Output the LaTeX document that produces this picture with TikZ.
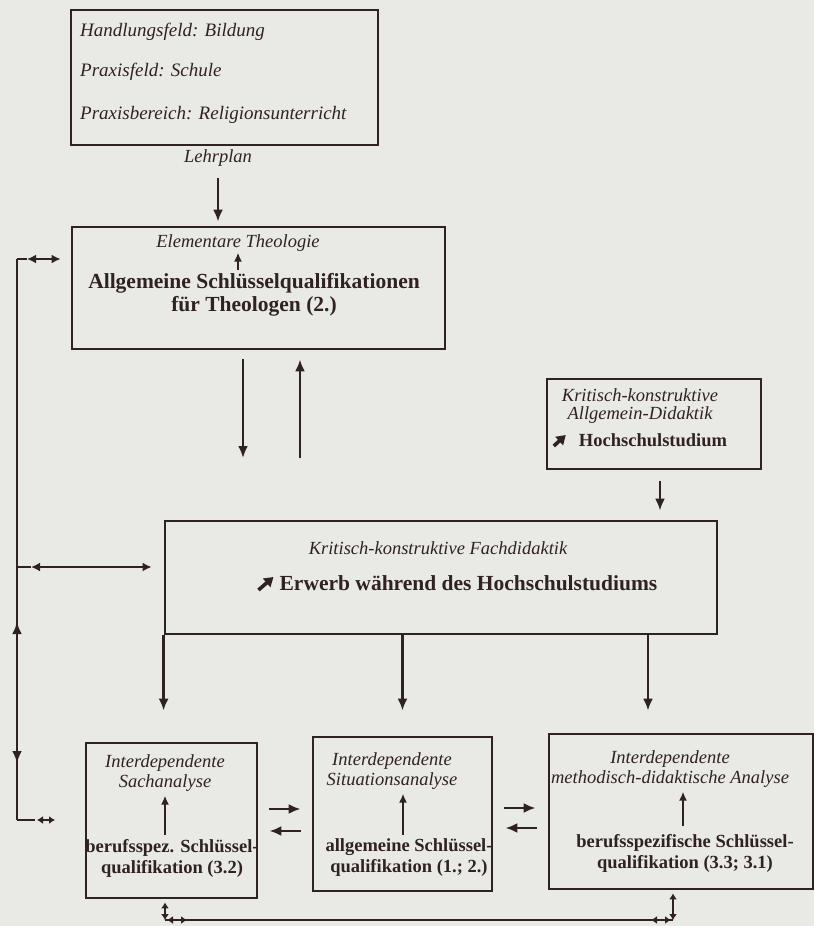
\documentclass[tikz,border=0pt]{standalone}
\usepackage{fontspec}
\setmainfont{Liberation Serif}
\usetikzlibrary{arrows.meta}
\definecolor{ink}{RGB}{48,34,34}
\definecolor{paper}{RGB}{233,233,230}

\begin{document}
\begin{tikzpicture}[x=1pt, y=-1pt,
	every node/.style={text=ink, inner sep=0pt},
	box/.style={draw=ink, line width=2.8pt},
	lbl/.style={font=\fontsize{18.5}{20}\selectfont\itshape, align=center},
	key/.style={font=\fontsize{18.5}{21}\selectfont\bfseries, align=center},
	big/.style={font=\fontsize{21.5}{23}\selectfont\bfseries, align=center},
	arr/.style={draw=ink, line width=2.4pt, -{Latex[length=12pt,width=10pt]}},
	up/.style={draw=ink, line width=2.2pt, -{Latex[length=9pt,width=8pt]}},
	dbl/.style={draw=ink, line width=2.4pt, {Latex[length=9pt,width=9pt]}-{Latex[length=9pt,width=9pt]}},
	tick/.style={draw=ink, line width=2.2pt, {Latex[length=6pt,width=8pt]}-{Latex[length=6pt,width=8pt]}},
	heavy/.style={draw=ink, line width=3.6pt, -{Triangle[length=9pt,width=11pt]}},
	bus/.style={draw=ink, line width=2.4pt}
]

% Paper
\fill[paper] (0,0) rectangle (814,926);
\useasboundingbox (0,0) rectangle (814,926);

%% BOXES
% Praxis
\node[box, minimum width=307pt, minimum height=135pt] (praxis) at (224.5,77.5) {};
\node[lbl, anchor=west, font=\fontsize{19}{21}\selectfont\itshape] (feld) at (80,32) {Handlungsfeld: Bildung};
\node[lbl, anchor=west, font=\fontsize{19}{21}\selectfont\itshape] (schule) at (80,72) {Praxisfeld: Schule};
\node[lbl, anchor=west, font=\fontsize{19}{21}\selectfont\itshape] (bereich) at (80,115) {Praxisbereich: Religionsunterricht};
\node[lbl] (lehrplan) at (218,158) {Lehrplan};

% Elementare Theologie
\node[box, minimum width=373pt, minimum height=122pt] (theo) at (258.5,288) {};
\node[lbl] (elem) at (238,243) {Elementare Theologie};
\node[big] (allg) at (254,295) {Allgemeine Schlüsselqualifikationen\\für Theologen (2.)};

% Allgemein-Didaktik
\node[box, minimum width=214pt, minimum height=90pt] (didak) at (654,424) {};
\node[lbl, font=\fontsize{18.5}{18}\selectfont\itshape] (krit) at (640,406) {Kritisch-konstruktive\\Allgemein-Didaktik};
\node[key] (hoch) at (653,440) {Hochschulstudium};
\draw[heavy] ([xshift=-25pt, yshift=-6pt]hoch.west) -- ++(12,-11);

% Fachdidaktik
\node[box, minimum width=552pt, minimum height=113pt] (fach) at (441,577.5) {};
\node[lbl] (fachtxt) at (438,548) {Kritisch-konstruktive Fachdidaktik};
\node[big] (erwerb) at (468.5,583) {Erwerb während des Hochschulstudiums};
\draw[heavy] ([xshift=-21pt, yshift=-7pt]erwerb.west) -- ++(15,-13);

% Analysen
\node[box, minimum width=171pt, minimum height=155pt] (sach) at (171.5,820.5) {};
\node[lbl] (sachtxt) at (165,773) {Interdependente\\Sachanalyse};
\node[key] (sachkey) at (172,858) {berufsspez. Schlüssel-\\qualifikation (3.2)};

\node[box, minimum width=179pt, minimum height=154pt] (situ) at (402.5,814) {};
\node[lbl] (situtxt) at (392,771) {Interdependente\\Situationsanalyse};
\node[key] (situkey) at (409,858) {allgemeine Schlüssel-\\qualifikation (1.; 2.)};

\node[box, minimum width=264pt, minimum height=155pt] (meth) at (681,811.5) {};
\node[lbl] (methtxt) at (670,769) {Interdependente\\methodisch-didaktische Analyse};
\node[key] (methkey) at (685,853) {berufsspezifische Schlüssel-\\qualifikation (3.3; 3.1)};

%% ARROWS
% Columns
\coordinate (c1) at (243,0);
\coordinate (c2) at (300,0);
\coordinate (c3) at (660,0);
\coordinate (c7) at (648,0);

\draw[arr, shorten <=11pt, shorten >=4pt] (lehrplan.south) -- (lehrplan.south |- theo.north);
\draw[up, shorten <=3pt, shorten >=1pt] (allg.north -| elem.south) -- (elem.south);
\draw[arr, shorten <=9pt] (c1 |- theo.south) -- (243,458);
\draw[arr, shorten >=9pt] (300,458) -- (c2 |- theo.south);
\draw[arr, shorten <=11pt, shorten >=9pt] (c3 |- didak.south) -- (c3 |- fach.north);

% Fachdidaktik down
\draw[arr, shorten >=31pt] (fach.south west) -- (fach.south west |- sach.north);
\draw[arr, shorten >=25pt] (situ.north |- fach.south) -- (situ.north);
\draw[arr, shorten >=22pt] (c7 |- fach.south) -- (c7 |- meth.north);

% Inside the analyses
\draw[up, shorten <=4pt, shorten >=4pt] (sachkey.north -| sachtxt.south) -- (sachtxt.south);
\draw[up, shorten <=4pt, shorten >=4pt] (situkey.north -| 403,0) -- (situtxt.south -| 403,0);
\draw[up, shorten <=8pt, shorten >=4pt] (methkey.north -| 683,0) -- (methtxt.south -| 683,0);

% Between the analyses
\path ([yshift=11.5pt]sach.east) coordinate (sa) ([yshift=-10.5pt]sach.east) coordinate (sb);
\draw[arr, shorten <=11pt, shorten >=11pt] (sa) -- (sa -| situ.west);
\draw[arr, shorten <=11pt, shorten >=11pt] (sb -| situ.west) -- (sb);
\path ([yshift=6pt]situ.east) coordinate (ta) ([yshift=-14pt]situ.east) coordinate (tb);
\draw[arr, shorten <=11pt, shorten >=12pt] (ta) -- (ta -| meth.west);
\draw[arr, shorten <=11pt, shorten >=12pt] (tb -| meth.west) -- (tb);

%% LEFT LINE
\coordinate (busT) at (17,259);
\coordinate (busM) at (17,567);
\coordinate (busS) at (17,700);
\coordinate (busB) at (17,820);
\draw[bus] (busT) -- (busB);
\draw[arr] (busS) -- ++(0,-78);
\draw[arr] (busS) -- ++(0,63);

\draw[bus] (busT) -- ++(10,0);
\draw[dbl, shorten >=10pt] ([xshift=10pt]busT) -- (busT -| theo.west);
\draw[bus] (busM) -- ++(14,0);
\draw[dbl, shorten >=12pt] ([xshift=14pt]busM) -- (busM -| fach.west);
\draw[bus] (busB) -- ++(18,0);
\draw[tick] ([xshift=20pt]busB) -- ([xshift=38pt]busB);

%% BOTTOM LINE
\coordinate (botL) at (165,920);
\coordinate (botR) at (673,920);
\draw[bus] (botL) -- (botR);
\draw[tick, shorten >=3pt] (botL) -- (botL |- sach.south);
\draw[tick, shorten >=3pt] (botR) -- (botR |- meth.south);
\draw[tick] ([xshift=2pt]botL) -- ([xshift=22pt]botL);
\draw[tick] ([xshift=-2pt]botR) -- ([xshift=-22pt]botR);

\end{tikzpicture}
\end{document}
